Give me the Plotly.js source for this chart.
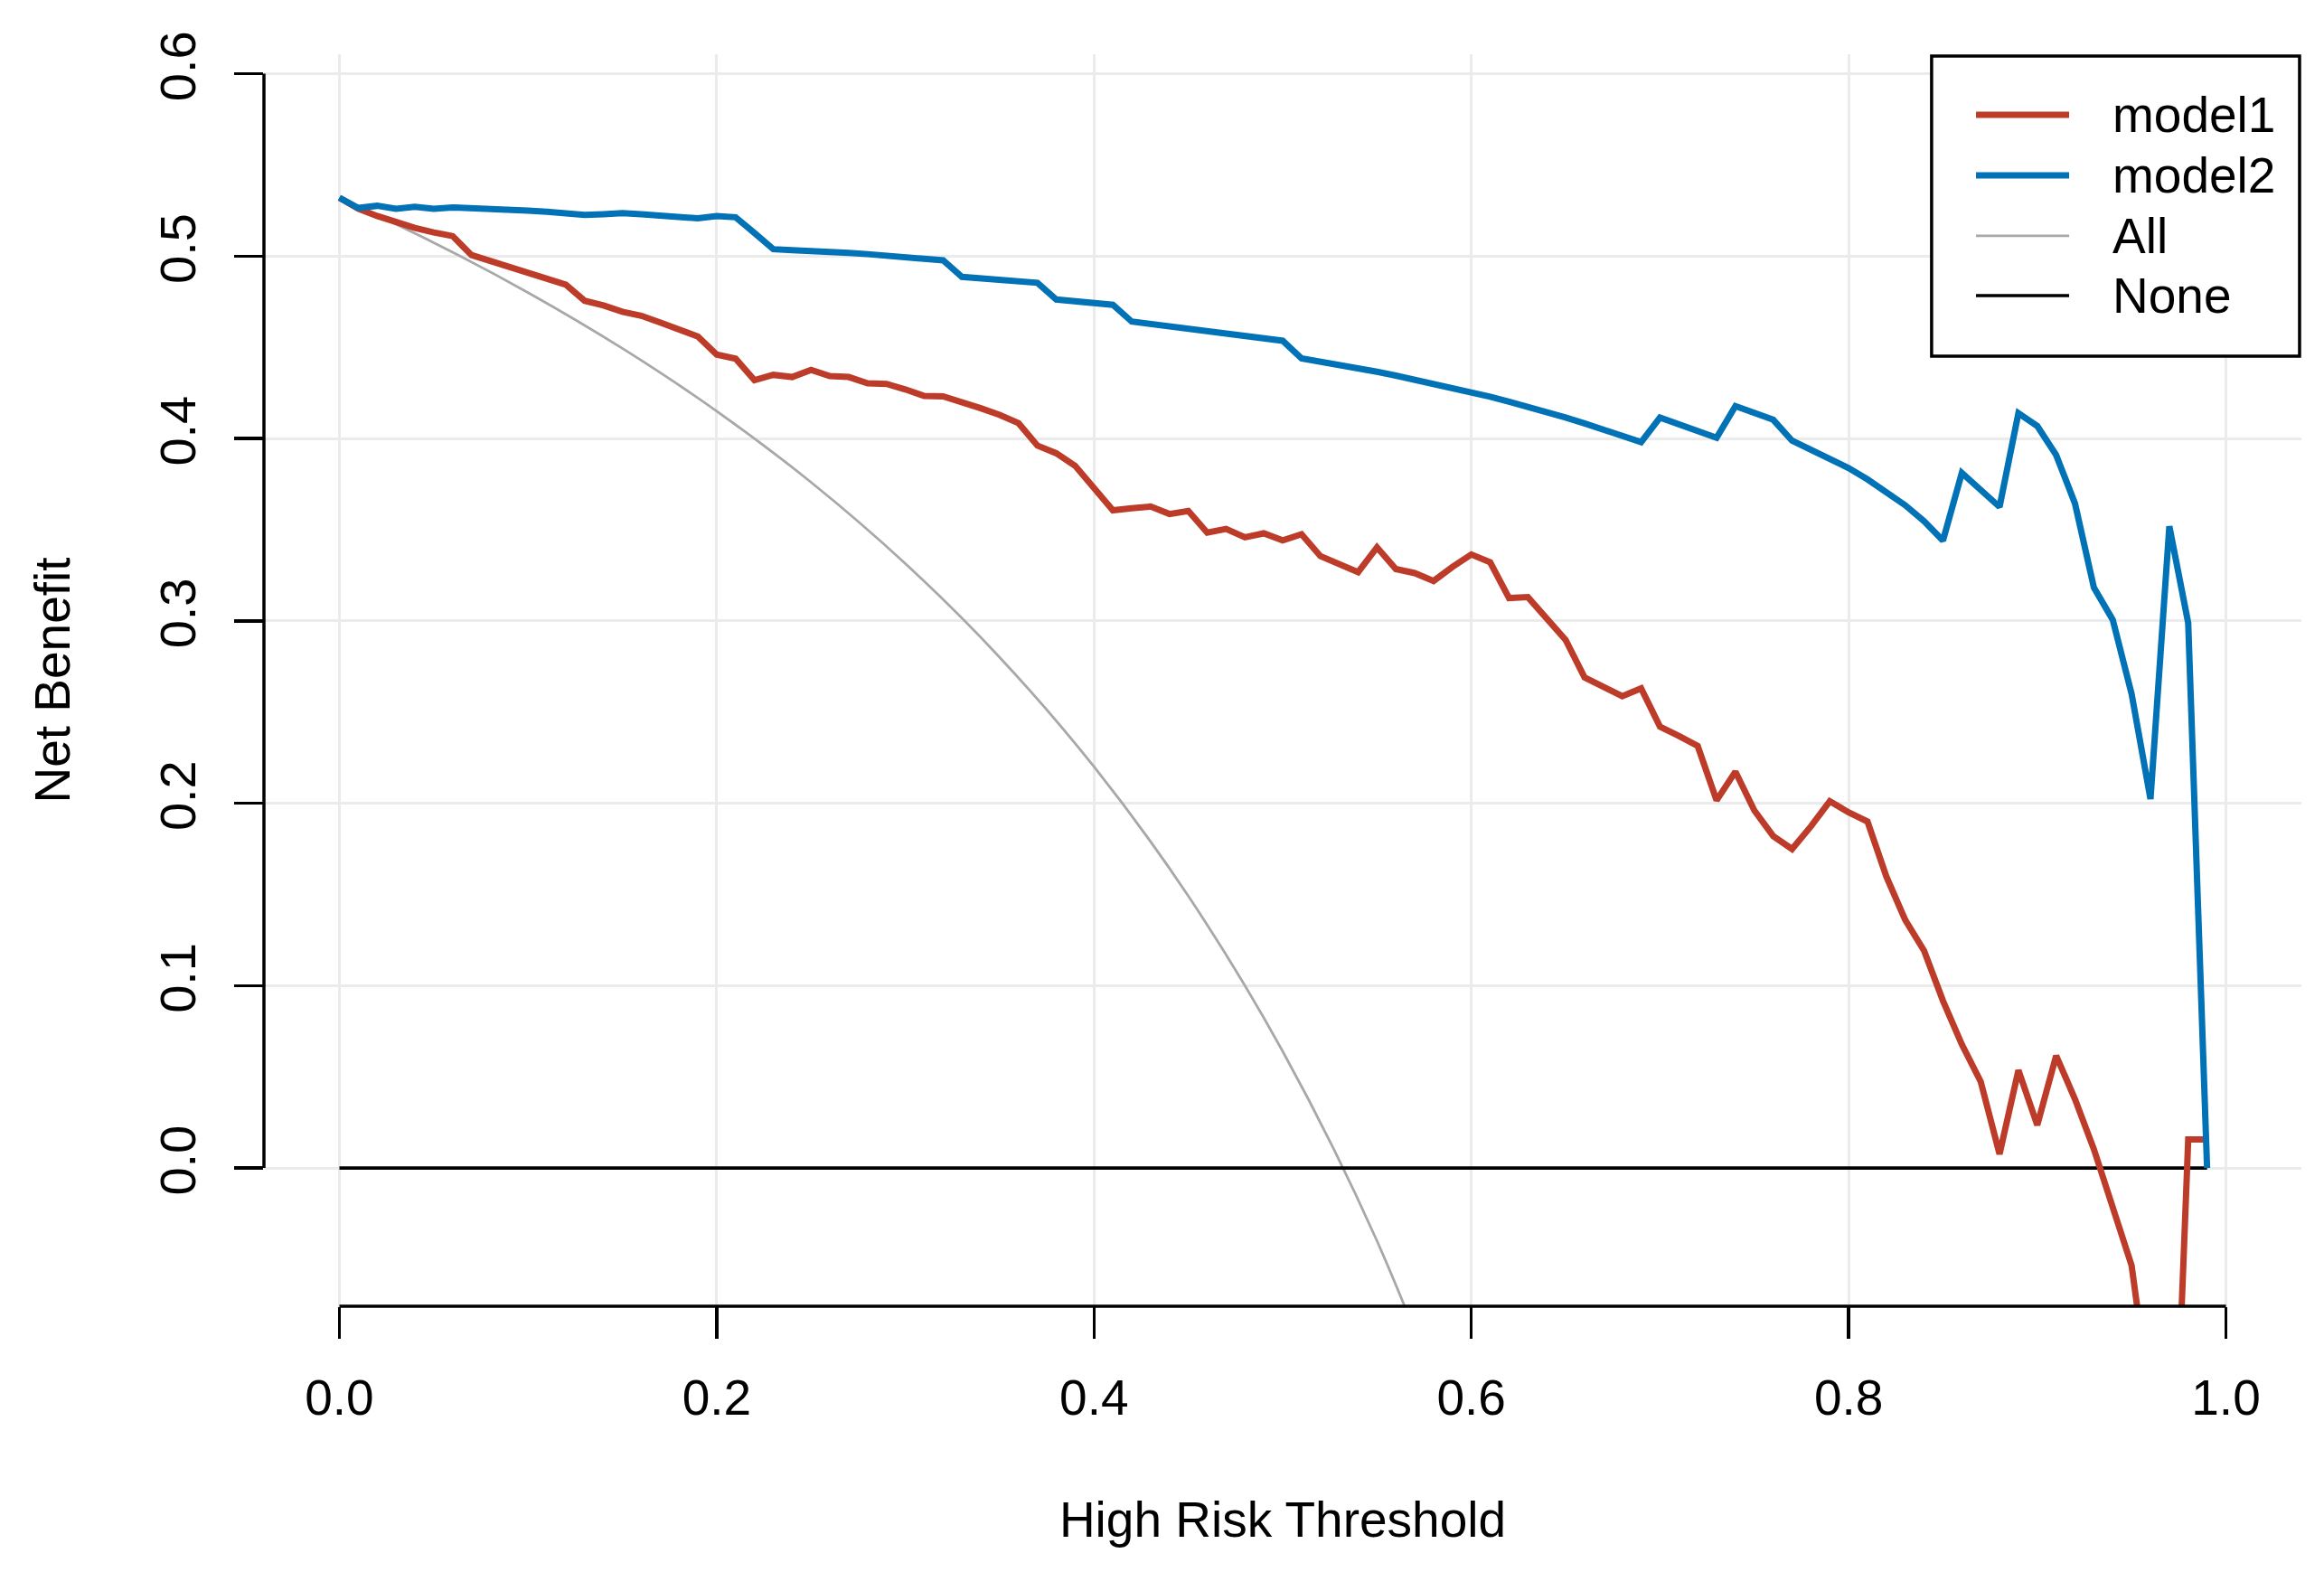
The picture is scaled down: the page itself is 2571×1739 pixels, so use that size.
<!DOCTYPE html>
<html>
<head>
<meta charset="utf-8">
<script src="https://cdn.plot.ly/plotly-3.0.1.min.js"></script>
<style>html,body{margin:0;padding:0;background:#fff;}#chart{width:2571px;height:1739px;}</style>
</head>
<body>
<div id="chart"></div>
<script>
// ---- data ----
const thresholds = [0.00,0.01,0.02,0.03,0.04,0.05,0.06,0.07,0.08,0.09,
  0.10,0.11,0.12,0.13,0.14,0.15,0.16,0.17,0.18,0.19,
  0.20,0.21,0.22,0.23,0.24,0.25,0.26,0.27,0.28,0.29,
  0.30,0.31,0.32,0.33,0.34,0.35,0.36,0.37,0.38,0.39,
  0.40,0.41,0.42,0.43,0.44,0.45,0.46,0.47,0.48,0.49,
  0.50,0.51,0.52,0.53,0.54,0.55,0.56,0.57,0.58,0.59,
  0.60,0.61,0.62,0.63,0.64,0.65,0.66,0.67,0.68,0.69,
  0.70,0.71,0.72,0.73,0.74,0.75,0.76,0.77,0.78,0.79,
  0.80,0.81,0.82,0.83,0.84,0.85,0.86,0.87,0.88,0.89,
  0.90,0.91,0.92,0.93,0.94,0.95,0.96,0.97,0.98,0.99];

const model1 = [0.532,0.526,0.522,0.5185,0.5155,0.513,0.511,0.5006,0.4974,0.4938,
  0.4909,0.4874,0.4844,0.4755,0.473,0.4695,0.4673,0.4636,0.4598,0.4559,
  0.446,0.4438,0.432,0.4349,0.4337,0.4376,0.4342,0.4337,0.4303,0.4299,
  0.4269,0.4233,0.4231,0.42,0.4166,0.4129,0.4084,0.3961,0.3919,0.385,
  0.3731,0.3606,0.3617,0.3627,0.3586,0.3603,0.3484,0.3504,0.3458,0.348,
  0.3441,0.3475,0.3355,0.3313,0.3267,0.3403,0.3284,0.3262,0.3219,0.3296,
  0.3364,0.3321,0.3125,0.313,0.3014,0.2895,0.269,0.2639,0.2587,0.263,
  0.242,0.2369,0.2314,0.2016,0.2173,0.1961,0.182,0.1749,0.1873,0.2011,
  0.195,0.19,0.1598,0.136,0.1191,0.0917,0.0678,0.0474,0.0076,0.0536,
  0.0235,0.0616,0.0377,0.0103,-0.0216,-0.0535,-0.13,-0.25,0.0156,0.0156];

const model2 = [0.532,0.5264,0.5276,0.526,0.527,0.526,0.5267,0.5264,0.5255,0.5255,
  0.525,0.5243,0.5236,0.5226,0.523,0.5236,0.523,0.5223,0.5216,0.5207,
  0.522,0.5213,0.5127,0.5038,0.5033,0.503,0.5025,0.5018,0.5011,0.5002,
  0.4994,0.4986,0.4977,0.4886,0.4878,0.4869,0.4861,0.4854,0.4762,0.4753,
  0.4745,0.4733,0.4641,0.4627,0.4615,0.4601,0.4588,0.4574,0.456,0.4547,
  0.4536,0.4439,0.4422,0.4405,0.4386,0.4366,0.4345,0.4323,0.4299,0.4277,
  0.4253,0.4229,0.4202,0.4175,0.4146,0.4115,0.4083,0.4049,0.4014,0.398,
  0.4115,0.4079,0.4042,0.4004,0.4178,0.4143,0.4103,0.3988,0.394,0.3891,
  0.3838,0.3776,0.3709,0.3634,0.3546,0.344,0.3811,0.3723,0.3625,0.4139,
  0.4068,0.3909,0.3643,0.3183,0.3006,0.2599,0.2023,0.3519,0.2988,0.0];

const allX = [0.00,0.05,0.10,0.15,0.20,0.25,0.30,0.35,0.40,0.45,0.50,0.55,0.60];
const allY = [0.532,0.5074,0.480,0.4494,0.415,0.376,0.3314,0.280,0.220,0.1491,0.064,-0.040,-0.170];

const noneX = [0.00,0.99];
const noneY = [0,0];

const xTickVals = [0,0.2,0.4,0.6,0.8,1.0];
const xTickText = ["0.0","0.2","0.4","0.6","0.8","1.0"];
const yTickVals = [0,0.1,0.2,0.3,0.4,0.5,0.6];
const yTickText = ["0.0","0.1","0.2","0.3","0.4","0.5","0.6"];

const seriesNames = ["model1","model2","All","None"];
const seriesColors = ["#BC3C29","#0072B5","#A8A8A8","#000000"];
const seriesWidths = [7,7,2.8,3.6];

// ---- chart ----
const FONT = "Liberation Sans, Arial, Helvetica, sans-serif";

const traces = [
  {x: allX, y: allY, name: seriesNames[2], mode: 'lines', line: {color: seriesColors[2], width: seriesWidths[2], shape: 'spline', smoothing: 1}},
  {x: noneX, y: noneY, name: seriesNames[3], mode: 'lines', line: {color: seriesColors[3], width: seriesWidths[3]}},
  {x: thresholds, y: model1, name: seriesNames[0], mode: 'lines', line: {color: seriesColors[0], width: seriesWidths[0]}},
  {x: thresholds, y: model2, name: seriesNames[1], mode: 'lines', line: {color: seriesColors[1], width: seriesWidths[1]}}
];

// custom legend (R style box with long line samples)
const legRows = [0.9516, 0.9032, 0.8549, 0.8072];
const shapes = [
  // R-style axis lines spanning first to last tick
  {type: 'line', xref: 'x', yref: 'paper', x0: xTickVals[0], x1: xTickVals[xTickVals.length-1], y0: 0, y1: 0, line: {color: 'black', width: 3.5}},
  {type: 'line', xref: 'paper', yref: 'y', x0: 0, x1: 0, y0: yTickVals[0], y1: yTickVals[yTickVals.length-1], line: {color: 'black', width: 3.5}},
  {type: 'rect', xref: 'paper', yref: 'paper', x0: 0.8185, x1: 0.9991, y0: 0.7588, y1: 0.9986, line: {color: 'black', width: 3.5}, fillcolor: 'white', layer: 'above'}
];
const annotations = [];
const legendOrder = [0,1,2,3];
legendOrder.forEach((k, i) => {
  shapes.push({type: 'line', xref: 'paper', yref: 'paper', x0: 0.8403, x1: 0.886, y0: legRows[i], y1: legRows[i],
    line: {color: seriesColors[k], width: seriesWidths[k]}, layer: 'above'});
  annotations.push({xref: 'paper', yref: 'paper', x: 0.9065, y: legRows[i], xanchor: 'left', yanchor: 'middle',
    text: seriesNames[k], showarrow: false, font: {family: FONT, size: 55, color: 'black'}});
});

const layout = {
  width: 2571, height: 1739,
  margin: {l: 292, r: 25, t: 60, b: 294, pad: 0},
  paper_bgcolor: 'white', plot_bgcolor: 'white',
  font: {family: FONT, size: 55, color: 'black'},
  showlegend: false,
  xaxis: {
    range: [-0.04, 1.04], tickmode: 'array', tickvals: xTickVals, ticktext: xTickText,
    ticks: 'outside', ticklen: 35, tickwidth: 3.5, tickcolor: 'black',
    showgrid: true, gridcolor: '#EBEBEB', gridwidth: 3, zeroline: false, showline: false,
    tickfont: {family: FONT, size: 55, color: 'black'}, ticklabelstandoff: 18,
    title: {text: 'High Risk Threshold', font: {family: FONT, size: 55, color: 'black'}, standoff: 85}
  },
  yaxis: {
    range: [-0.0758, 0.6107], tickmode: 'array', tickvals: yTickVals, ticktext: yTickText,
    ticks: 'outside', ticklen: 32, tickwidth: 3.5, tickcolor: 'black', tickangle: -90,
    showgrid: true, gridcolor: '#EBEBEB', gridwidth: 3, zeroline: false, showline: false,
    tickfont: {family: FONT, size: 56, color: 'black'}, ticklabelstandoff: 21,
    title: {text: 'Net Benefit', font: {family: FONT, size: 55, color: 'black'}, standoff: 69}
  },
  shapes: shapes,
  annotations: annotations
};

Plotly.newPlot('chart', traces, layout, {staticPlot: true, displayModeBar: false});
</script>
</body>
</html>
